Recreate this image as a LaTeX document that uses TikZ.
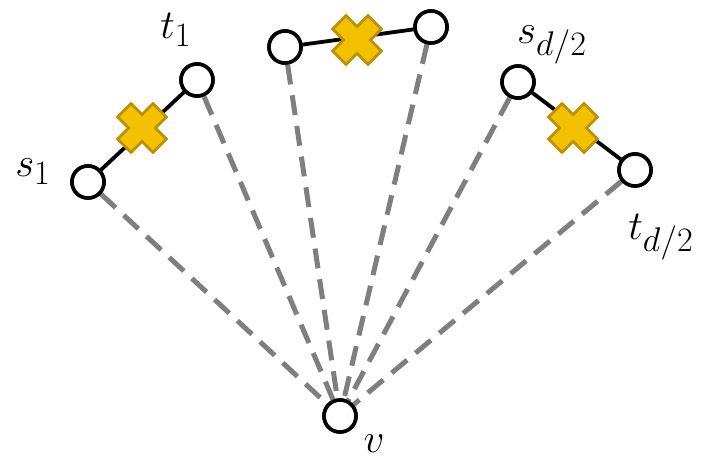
\documentclass[tikz,border=0pt]{standalone}
\usetikzlibrary{calc}
\definecolor{dashgray}{HTML}{7F7F7F}
\definecolor{crossfill}{HTML}{F2C200}
\definecolor{crossedge}{HTML}{BF9000}
\tikzset{
  vert/.style={circle,draw=black,fill=white,line width=3.6pt,minimum size=32pt,inner sep=0pt},
  edgeline/.style={draw=black,line width=3.8pt},
  dashline/.style={draw=dashgray,line width=5pt,dash pattern=on 20pt off 11pt},
  lbl/.style={inner sep=0pt,font=\Huge},
  crossmark/.style={fill=crossfill,draw=crossedge,line width=2.8pt,line join=miter},
}
\newcommand{\biglbl}[1]{\scalebox{1.65}{#1}}
\newcommand{\crossat}[1]{%
  \path[crossmark,shift={(#1)},rotate=45]
    (9.5,25)--(9.5,9.5)--(25,9.5)--(25,-9.5)--(9.5,-9.5)--(9.5,-25)--(-9.5,-25)--(-9.5,-9.5)--(-25,-9.5)--(-25,9.5)--(-9.5,9.5)--(-9.5,25)--cycle;}
\begin{document}
\begin{tikzpicture}[x=1pt,y=-1pt]
\useasboundingbox (0,0) rectangle (706,464);
% vertices
\node[vert] (s1) at (88,182) {};
\node[vert] (t1) at (197,80) {};
\node[vert] (a) at (285,47) {};
\node[vert] (b) at (431,27) {};
\node[vert] (sd) at (518,82) {};
\node[vert] (td) at (635,170) {};
\node[vert] (v) at (340,416) {};
% dashed connectors
\path[dashline] (s1) -- (v);
\path[dashline] (t1) -- (v);
\path[dashline] (a) -- (v);
\path[dashline] (b) -- (v);
\path[dashline] (sd) -- (v);
\path[dashline] (td) -- (v);
% solid edges
\path[edgeline] (s1) -- (t1);
\path[edgeline] (a) -- (b);
\path[edgeline] (sd) -- (td);
% redraw vertices on top
\node[vert] at (s1) {};
\node[vert] at (t1) {};
\node[vert] at (a) {};
\node[vert] at (b) {};
\node[vert] at (sd) {};
\node[vert] at (td) {};
\node[vert] at (v) {};
% crosses
\crossat{142,128}
\crossat{357,40}
\crossat{573,128}
% labels
\node[lbl] (ls1) at (33,172) {\biglbl{$s_1$}};
\node[lbl] (lt1) at (176,30) {\biglbl{$t_1$}};
\node[lbl] (lsd) at (552,45) {\biglbl{$s_{d/2}$}};
\node[lbl] (ltd) at (661,237) {\biglbl{$t_{d/2}$}};
\node[lbl] (lv) at (374,444) {\biglbl{$v$}};
\end{tikzpicture}
\end{document}
